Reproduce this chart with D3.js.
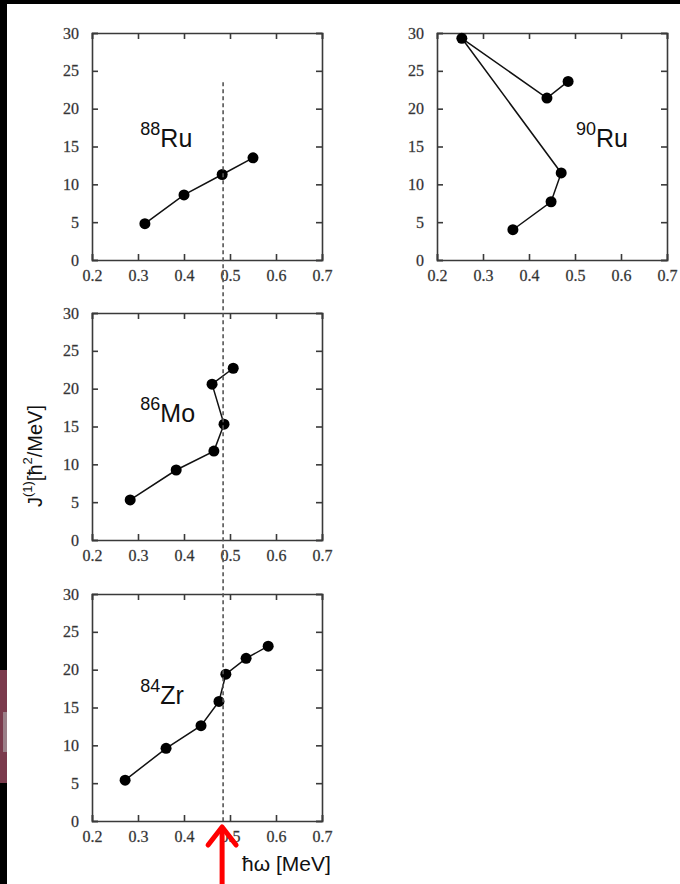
<!DOCTYPE html>
<html>
<head>
<meta charset="utf-8">
<script src="https://cdn.jsdelivr.net/npm/d3@7"></script>
<style>
  html, body { margin: 0; padding: 0; background: #fff; }
  svg { display: block; }
</style>
</head>
<body>
<script>
// Axis ticks shared by every panel
const xTicks = [0.2, 0.3, 0.4, 0.5, 0.6, 0.7];
const yTicks = [0, 5, 10, 15, 20, 25, 30];

// Kinematic moment of inertia J(1) versus rotational frequency ħω
const ru88Omega = [0.315, 0.400, 0.483, 0.550];
const ru88J     = [4.8, 8.6, 11.3, 13.5];

const ru90Omega = [0.365, 0.448, 0.470, 0.254, 0.439, 0.485];
const ru90J     = [4.0, 7.7, 11.5, 29.3, 21.4, 23.6];

const mo86Omega = [0.283, 0.383, 0.465, 0.487, 0.461, 0.507];
const mo86J     = [5.3, 9.25, 11.75, 15.3, 20.6, 22.7];

const zr84Omega = [0.272, 0.361, 0.437, 0.476, 0.491, 0.535, 0.583];
const zr84J     = [5.4, 9.6, 12.6, 15.8, 19.4, 21.5, 23.1];

// Common crossing frequency marked by the dashed line
const crossingOmega = 0.485;
const crossingTopJ = 23.5;

const W = 680, H = 884;
const svg = d3.select("body").append("svg")
  .attr("width", W).attr("height", H)
  .style("font-family", "'Liberation Serif', 'Times New Roman', serif");

svg.append("rect").attr("width", W).attr("height", H).attr("fill", "#fff");
// dark page edges
svg.append("rect").attr("x", 0).attr("y", 0).attr("width", W).attr("height", 4).attr("fill", "#000");
svg.append("rect").attr("x", 0).attr("y", 0).attr("width", 7).attr("height", H).attr("fill", "#000");
svg.append("rect").attr("x", 0).attr("y", 670).attr("width", 7).attr("height", 113).attr("fill", "#7a3a4c");
svg.append("rect").attr("x", 3).attr("y", 712).attr("width", 4).attr("height", 40).attr("fill", "#9a7f88");

const panels = [
  { mass: "88", sym: "Ru", omega: ru88Omega, J: ru88J, x0: 92,  y0: 33,  labelW: 0.305, labelJ: 15.0 },
  { mass: "90", sym: "Ru", omega: ru90Omega, J: ru90J, x0: 437, y0: 33,  labelW: 0.502, labelJ: 15.0 },
  { mass: "86", sym: "Mo", omega: mo86Omega, J: mo86J, x0: 92,  y0: 313, labelW: 0.305, labelJ: 15.6 },
  { mass: "84", sym: "Zr", omega: zr84Omega, J: zr84J, x0: 92,  y0: 594, labelW: 0.305, labelJ: 15.5 }
];
const pw = 230, ph = 227;
const tickLen = 6;
const frameColor = "#3a3a3a";

panels.forEach(p => {
  p.x = d3.scaleLinear().domain([0.2, 0.7]).range([p.x0, p.x0 + pw]);
  p.y = d3.scaleLinear().domain([0, 30]).range([p.y0 + ph, p.y0]);
  const g = svg.append("g");

  // axes with inward ticks on all four sides
  const bottom = d3.axisBottom(p.x).tickValues(xTicks).tickSize(-tickLen).tickPadding(10).tickFormat(d3.format(".1f"));
  const top = d3.axisTop(p.x).tickValues(xTicks).tickSize(-tickLen).tickFormat("");
  const left = d3.axisLeft(p.y).tickValues(yTicks).tickSize(-tickLen).tickPadding(13).tickFormat(d3.format("d"));
  const right = d3.axisRight(p.y).tickValues(yTicks).tickSize(-tickLen).tickFormat("");

  const axes = [
    g.append("g").attr("transform", `translate(0,${p.y0 + ph})`).call(bottom),
    g.append("g").attr("transform", `translate(0,${p.y0})`).call(top),
    g.append("g").attr("transform", `translate(${p.x0},0)`).call(left),
    g.append("g").attr("transform", `translate(${p.x0 + pw},0)`).call(right)
  ];
  axes.forEach(a => {
    a.select(".domain").attr("stroke", frameColor).attr("stroke-width", 1.6);
    a.selectAll(".tick line").attr("stroke", frameColor).attr("stroke-width", 1.6);
    a.selectAll(".tick text").attr("fill", "#222").style("font-size", "16px")
      .attr("stroke", "#666").attr("stroke-width", 0.3)
      .style("font-family", "'Liberation Serif', 'Times New Roman', serif");
  });

  // connecting line and markers
  const pts = p.omega.map((w, i) => [w, p.J[i]]);
  g.append("path")
    .datum(pts)
    .attr("fill", "none")
    .attr("stroke", "#111")
    .attr("stroke-width", 1.5)
    .attr("d", d3.line().x(d => p.x(d[0])).y(d => p.y(d[1])));
  g.selectAll("circle.pt").data(pts).join("circle")
    .attr("class", "pt")
    .attr("cx", d => p.x(d[0]))
    .attr("cy", d => p.y(d[1]))
    .attr("r", 5.5)
    .attr("fill", "#000");

  // nucleus label
  const t = g.append("text")
    .attr("x", p.x(p.labelW))
    .attr("y", p.y(p.labelJ))
    .style("font-family", "'Liberation Sans', Arial, sans-serif")
    .attr("fill", "#111");
  t.append("tspan").text(p.mass).style("font-size", "18px").attr("dy", -12);
  t.append("tspan").text(p.sym).style("font-size", "25px").attr("dy", 12);
});

// dashed line at the crossing frequency, running through the left column
const pTop = panels[0], pBot = panels[3];
svg.append("line")
  .attr("x1", pTop.x(crossingOmega)).attr("x2", pTop.x(crossingOmega))
  .attr("y1", pTop.y(crossingTopJ)).attr("y2", pBot.y(0))
  .attr("stroke", "#555").attr("stroke-width", 1.6)
  .attr("stroke-dasharray", "4,3");

// y-axis title
const yt = svg.append("text")
  .attr("transform", "translate(42,456) rotate(-90)")
  .attr("text-anchor", "middle")
  .style("font-family", "'Liberation Sans', Arial, sans-serif")
  .style("font-size", "20px")
  .attr("fill", "#111");
yt.append("tspan").text("J");
yt.append("tspan").text("(1)").style("font-size", "13px").attr("dy", -10);
yt.append("tspan").text("[ħ").attr("dy", 10);
yt.append("tspan").text("2").style("font-size", "13px").attr("dy", -10);
yt.append("tspan").text("/MeV]").attr("dy", 10);

// x-axis title
svg.append("text")
  .attr("x", 242).attr("y", 871)
  .style("font-family", "'Liberation Sans', Arial, sans-serif")
  .style("font-size", "21px")
  .attr("fill", "#111")
  .text("ħω [MeV]");

// red arrow pointing at the crossing frequency
const ax = pBot.x(crossingOmega) - 1, tipY = pBot.y(0) + 2;
svg.append("line")
  .attr("x1", ax).attr("x2", ax)
  .attr("y1", H).attr("y2", tipY + 4)
  .attr("stroke", "#f00").attr("stroke-width", 5);
svg.append("path")
  .attr("d", `M${ax - 14},${tipY + 22} L${ax},${tipY + 4} L${ax + 14},${tipY + 22}`)
  .attr("fill", "none").attr("stroke", "#f00").attr("stroke-width", 5)
  .attr("stroke-linecap", "round").attr("stroke-linejoin", "round");
</script>
</body>
</html>
